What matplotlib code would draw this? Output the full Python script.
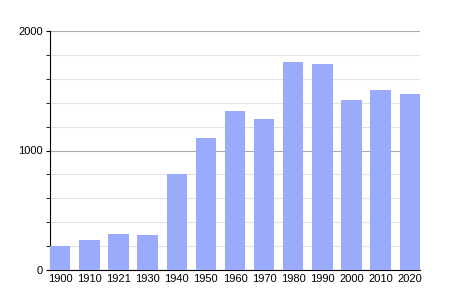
import matplotlib.pyplot as plt
from matplotlib.ticker import MultipleLocator

# Population par année
years = ['1900', '1910', '1921', '1930', '1940', '1950', '1960',
         '1970', '1980', '1990', '2000', '2010', '2020']
population = [201, 251, 301, 293, 803, 1105, 1331,
              1264, 1741, 1724, 1423, 1506, 1473]

plt.rcParams['font.family'] = ['Liberation Sans', 'DejaVu Sans']

fig = plt.figure(figsize=(4.5, 3), dpi=100)
ax = fig.add_axes([50 / 450, 30 / 300, 370 / 450, 239 / 300])

x = range(len(years))
ax.bar(x, population, width=0.7, color='#9aabfc', zorder=3)

ax.set_xlim(-0.35, len(years) - 0.65)
ax.set_ylim(0, 2000)

ax.yaxis.set_major_locator(MultipleLocator(1000))
ax.yaxis.set_minor_locator(MultipleLocator(200))
ax.grid(axis='y', which='major', color='#aaaaaa', linewidth=0.8, zorder=1)
ax.grid(axis='y', which='minor', color='#e2e2e2', linewidth=0.8, zorder=1)

ax.set_xticks(list(x))
ax.set_xticklabels(years)
ax.tick_params(axis='x', length=0, labelsize=8, pad=3)
ax.tick_params(axis='y', which='major', length=3, labelsize=8, pad=2)
ax.tick_params(axis='y', which='minor', length=3)

for side in ['top', 'right']:
    ax.spines[side].set_visible(False)
ax.spines['left'].set_linewidth(0.8)
ax.spines['bottom'].set_linewidth(0.8)

fig.savefig('out.png', dpi=100)
